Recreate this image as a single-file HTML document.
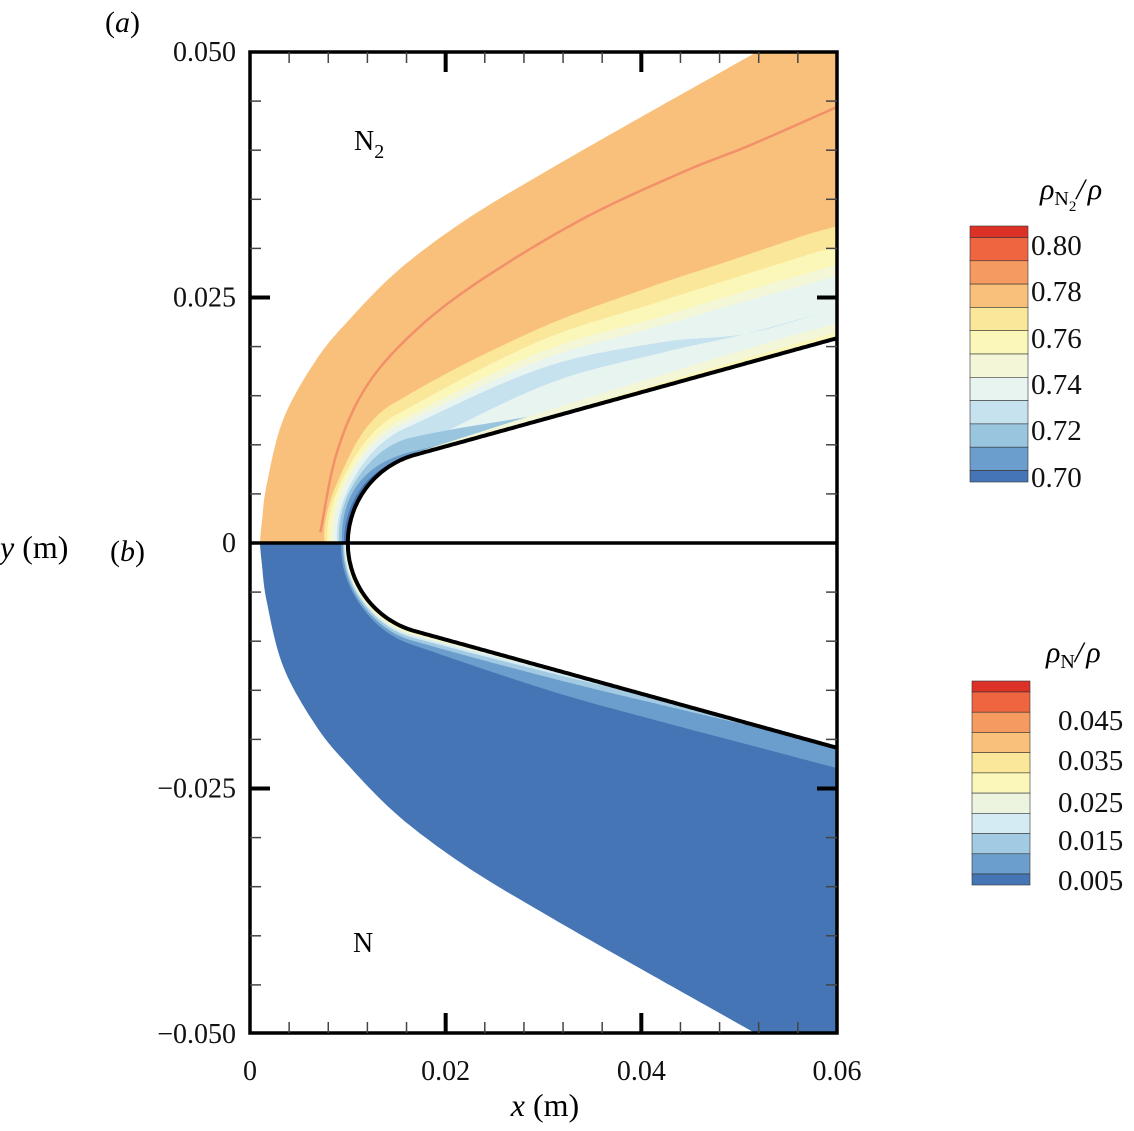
<!DOCTYPE html>
<html><head><meta charset="utf-8">
<style>
html,body{margin:0;padding:0;background:#fff;}
svg{display:block;font-family:"Liberation Serif",serif;}
</style></head>
<body>
<svg id="chart" width="1134" height="1131" viewBox="0 0 1134 1131" xmlns="http://www.w3.org/2000/svg">
<defs>
<clipPath id="clipUp"><rect x="250" y="52" width="587" height="491"/></clipPath>
<clipPath id="clipDn"><rect x="250" y="543" width="587" height="490"/></clipPath>
</defs>
<g id="upper" clip-path="url(#clipUp)"></g>
<g id="lower" clip-path="url(#clipDn)"></g>
<g id="overlay"></g>
<text x="1040" y="199" font-size="30" font-style="italic">ρ<tspan font-style="normal" font-size="20" dy="6">N</tspan><tspan font-style="normal" font-size="15" dy="6">2</tspan><tspan dy="-12">/</tspan><tspan dx="3">ρ</tspan></text>
<text x="1046" y="662" font-size="30" font-style="italic">ρ<tspan font-style="normal" font-size="20" dy="6">N</tspan><tspan dy="-6">/</tspan><tspan dx="3">ρ</tspan></text>
<text x="105" y="32" font-size="30">(<tspan font-style="italic">a</tspan>)</text>
<text x="110" y="561" font-size="30">(<tspan font-style="italic">b</tspan>)</text>
<text x="0" y="558" font-size="32"><tspan font-style="italic">y</tspan> (m)</text>
<text x="545" y="1116" font-size="32" text-anchor="middle"><tspan font-style="italic">x</tspan> (m)</text>
<text x="354" y="150" font-size="28">N<tspan font-size="20" dy="8">2</tspan></text>
<text x="353" y="952" font-size="28">N</text>
</svg>
<script>
// ---- data (mm) ----
const shockX = [1.0, 1.2, 1.7, 3.4, 6.8, 10.2, 15.3, 22.2, 30.7, 40.9, 51.1, 60.0];
const shockY = [0.0, 2.0, 5.9, 12.6, 18.7, 22.8, 27.9, 33.0, 38.1, 43.9, 49.6, 54.6];
const lineX = [7.2, 8.9, 12.0, 17.1, 23.8, 34.0, 44.3, 51.1, 60.0];
const lineY = [1.1, 9.3, 16.1, 21.8, 26.9, 33.0, 37.8, 40.5, 44.4];
const sStations = [0, 6, 12.1, 27.6, 40, 48, 57];
const n2Yellow = [2.4, 3.0, 5.8, 9.0, 10.1, 10.5, 11.0];
const n2LightYellow = [2.1, 2.6, 4.6, 7.8, 8.4, 8.7, 9.0];
const n2Cream = [1.7, 2.3, 3.9, 6.7, 6.9, 7.1, 7.2];
const n2Pale = [1.4, 2.0, 3.4, 5.9, 6.0, 6.1, 6.1];
const n2LightBlueOut = [1.1, 1.6, 2.9, 5.1, 4.3, 2.9, 2.9];
const n2LightBlueIn = [0, 0, 0.8, 3.4, 3.3, 2.9, 2.9];
const n2Blue = [0.9, 1.3, 1.8, 0.4, 0, 0, 0];
const n2Mid = [0.6, 0.9, 0.4, 0, 0, 0, 0];
const n2Dark = [0.4, 0.4, 0, 0, 0, 0, 0];
const n2WallCream = [0, 0, 0.2, 0.8, 1.2, 1.4, 1.5];
const n2WallYellow = [0, 0, 0, 0.2, 0.4, 0.5, 0.6];
const nMid = [0.7, 0.9, 1.4, 2.2, 2.2, 2.1, 2.0];
const nBlue = [0.5, 0.7, 1.0, 0.9, 0.5, 0.2, 0];
const nLight = [0.4, 0.5, 0.7, 0.4, 0, 0, 0];
const nPale = [0.3, 0.4, 0.5, 0.2, 0, 0, 0];
const nYellow = [0.2, 0.3, 0.3, 0, 0, 0, 0];
const nOrange = [0.12, 0.15, 0.1, 0, 0, 0, 0];
const cb1Colors = ["#dc3127","#ee6540","#f59a60","#f9c07b","#fbe79a","#fbf7b8","#f4f6d8","#e8f4f0","#c6e2ef","#9ac5df","#6b9ecc","#4575b4"];
const cb1Labels = ["0.80","0.78","0.76","0.74","0.72","0.70"];
const cb2Colors = ["#dc3127","#ee6540","#f59a60","#f9c07b","#fbe79a","#fbf7b8","#ecf4e0","#d4ebf3","#a3cae3","#6b9ecc","#4575b4"];
const cb2Labels = ["0.045","0.035","0.025","0.015","0.005"];
const xTicks = [0, 0.02, 0.04, 0.06];
const xTickLabels = ["0","0.02","0.04","0.06"];
const yTicks = [0.05, 0.025, 0, -0.025, -0.05];
const yTickLabels = ["0.050","0.025","0","\u22120.025","\u22120.050"];

const X = v => 250 + v * 9.783;
const Y = v => 543 - v * 9.82;
const R = 9.3, th = 15.4 * Math.PI / 180, xc = 10 + R;
const sNose = R * (Math.PI / 2 - th);
function body(s) {
  if (s <= sNose) { const a = s / R; return [xc - R * Math.cos(a), R * Math.sin(a), -Math.cos(a), Math.sin(a)]; }
  const d = s - sNose, tx = xc - R * Math.sin(th), ty = R * Math.cos(th);
  return [tx + d * Math.cos(th), ty + d * Math.sin(th), -Math.sin(th), Math.cos(th)];
}
const sEnd = sNose + (60 - (xc - R * Math.sin(th))) / Math.cos(th);
const sFill = sEnd + 5; // fills extend past frame, clipped
function interp(arr, s) {
  const n = sStations.length;
  if (s >= sStations[n - 1]) return arr[n - 1];
  let i = 0;
  while (i < n - 2 && s > sStations[i + 1]) i++;
  const x0 = sStations[i], x1 = sStations[i + 1], t = Math.min(1, Math.max(0, (s - x0) / (x1 - x0)));
  const p0 = arr[Math.max(0, i - 1)], p1 = arr[i], p2 = arr[i + 1], p3 = arr[Math.min(n - 1, i + 2)];
  const h = x1 - x0;
  const m1 = i > 0 ? (p2 - p0) / (x1 - sStations[i - 1]) * h : (p2 - p1);
  const m2 = i + 2 < n ? (p3 - p1) / (sStations[i + 2] - x0) * h : (p2 - p1);
  const t2 = t * t, t3 = t2 * t;
  const v = (2 * t3 - 3 * t2 + 1) * p1 + (t3 - 2 * t2 + t) * m1 + (-2 * t3 + 3 * t2) * p2 + (t3 - t2) * m2;
  return Math.max(0, v);
}
function smoothPts(xs, ys, sign) {
  const P = xs.map((x, i) => [X(x), Y(sign * ys[i])]), out = [];
  for (let i = 0; i < P.length - 1; i++) {
    const p0 = P[Math.max(0, i - 1)], p1 = P[i], p2 = P[i + 1], p3 = P[Math.min(P.length - 1, i + 2)];
    for (let k = 0; k < 12; k++) {
      const t = k / 12, t2 = t * t, t3 = t2 * t;
      out.push([0, 1].map(j => 0.5 * ((2 * p1[j]) + (-p0[j] + p2[j]) * t + (2 * p0[j] - 5 * p1[j] + 4 * p2[j] - p3[j]) * t2 + (-p0[j] + 3 * p1[j] - 3 * p2[j] + p3[j]) * t3)));
    }
  }
  out.push(P[P.length - 1]);
  return out;
}
const N = 220;
function offsetPts(arr, sign, sMax) {
  const p = [];
  for (let i = 0; i <= N; i++) {
    const s = sMax * i / N, b = body(s), t = arr ? interp(arr, s) : 0;
    p.push([X(b[0] + b[2] * t), Y(sign * (b[1] + b[3] * t))]);
  }
  return p;
}
const NS = "http://www.w3.org/2000/svg";
function mk(tag, attrs, parent) {
  const e = document.createElementNS(NS, tag);
  for (const k in attrs) e.setAttribute(k, attrs[k]);
  parent.appendChild(e); return e;
}
const ptsStr = p => p.map(q => q[0].toFixed(1) + "," + q[1].toFixed(1)).join(" ");
function ring(outer, inner, sign, color, parent, name) {
  const o = offsetPts(outer, sign, sFill), i = offsetPts(inner, sign, sFill).reverse();
  const e = mk("polygon", {points: ptsStr(o.concat(i)), fill: color}, parent);
  
  
}
function fieldRegion(sign, color, parent, name) {
  const p = smoothPts(shockX, shockY, sign);
  p.push([X(64), Y(sign * 60)]);
  offsetPts(null, sign, sFill).reverse().forEach(q => p.push(q));
  const e = mk("polygon", {points: ptsStr(p), fill: color}, parent);
  
  
}
const up = document.getElementById("upper"), dn = document.getElementById("lower"), ov = document.getElementById("overlay");
fieldRegion(1, "#f9c07b", up, "n2-shock-layer");
ring(n2Yellow, null, 1, "#fbe79a", up, "n2-band-076");
ring(n2LightYellow, null, 1, "#fbf7b8", up, "n2-band-075");
ring(n2Cream, null, 1, "#f4f6d8", up, "n2-band-0745");
ring(n2Pale, null, 1, "#e8f4f0", up, "n2-band-074");
ring(n2LightBlueOut, n2LightBlueIn, 1, "#c6e2ef", up, "n2-band-073");
ring(n2Blue, null, 1, "#9ac5df", up, "n2-band-072");
ring(n2Mid, null, 1, "#6b9ecc", up, "n2-band-071");
ring(n2Dark, null, 1, "#4575b4", up, "n2-band-070");
ring(n2WallCream, null, 1, "#f4f6d8", up, "n2-wall-band-cream");
ring(n2WallYellow, null, 1, "#fbf7b8", up, "n2-wall-band-yellow");
const rl = mk("polyline", {points: ptsStr(smoothPts(lineX, lineY, 1)), fill: "none", stroke: "#f2906a", "stroke-width": 2.5}, up);



fieldRegion(-1, "#4575b4", dn, "n-shock-layer");
ring(nMid, null, -1, "#6b9ecc", dn, "n-band-mid");
ring(nBlue, null, -1, "#a3cae3", dn, "n-band-blue");
ring(nLight, null, -1, "#d4ebf3", dn, "n-band-light");
ring(nPale, null, -1, "#ecf4e0", dn, "n-band-pale");
ring(nYellow, null, -1, "#fbf7b8", dn, "n-band-yellow");
ring(nOrange, null, -1, "#f9c07b", dn, "n-band-orange");

[1, -1].forEach(sg => {
  const e = mk("polyline", {points: ptsStr(offsetPts(null, sg, sEnd)), fill: "none", stroke: "#000", "stroke-width": 4}, ov);
  
  
});
let e = mk("line", {x1: 250, y1: 543, x2: 837, y2: 543, stroke: "#000", "stroke-width": 3.5}, ov);


e = mk("rect", {x: 250, y: 52, width: 587, height: 981, fill: "none", stroke: "#000", "stroke-width": 3.5}, ov);


for (let k = 1; k < 15; k++) {
  const x = X(k * 4), major = (k % 5 === 0), L = major ? 20 : 11, w = major ? 4 : 1.5;
  [[52, 52 + L], [1033, 1033 - L]].forEach(([a, b]) => {
    const t = mk("line", {x1: x, y1: a, x2: x, y2: b, stroke: major ? "#000" : "#444", "stroke-width": w}, ov);
    
    
  });
}
for (let k = -9; k <= 9; k++) {
  if (k === 0) continue;
  const y = Y(k * 5), major = (k % 5 === 0), L = major ? 20 : 11, w = major ? 4 : 1.5;
  [[250, 250 + L], [837, 837 - L]].forEach(([a, b]) => {
    const t = mk("line", {x1: a, y1: y, x2: b, y2: y, stroke: major ? "#000" : "#444", "stroke-width": w}, ov);
    
    
  });
}
function txt(s, x, y, size, anchor, name) {
  const t = mk("text", {x: x, y: y, "font-size": size, "text-anchor": anchor, fill: "#111"}, ov);
  t.textContent = s;
  
  
  return t;
}
xTicks.forEach((v, i) => txt(xTickLabels[i], X(v * 1000), 1080, 28, "middle", "x-tick-label"));
yTicks.forEach((v, i) => txt(yTickLabels[i], 236, Y(v * 1000) + 9, 28, "end", "y-tick-label"));

function colorbar(colors, labels, x, top, bot, endH, labelX, labelYs, name) {
  const n = colors.length, mid = (bot - top - 2 * endH) / (n - 2);
  let y = top;
  colors.forEach((c, i) => {
    const h = (i === 0 || i === n - 1) ? endH : mid;
    const r = mk("rect", {x: x, y: y, width: 58, height: h, fill: c, stroke: "#333", "stroke-width": 0.6}, ov);
    
    
    y += h;
  });
  labels.forEach((l, i) => txt(l, labelX, labelYs[i], 29, "start", name + '-label'));
}
colorbar(cb1Colors, cb1Labels, 970, 226, 482, 11.5, 1031, [255, 301, 348, 394, 440, 487], "n2-colorbar");
colorbar(cb2Colors, cb2Labels, 972, 681, 885, 11, 1058, [730, 770, 812, 850, 890], "n-colorbar");
</script>
</body></html>
